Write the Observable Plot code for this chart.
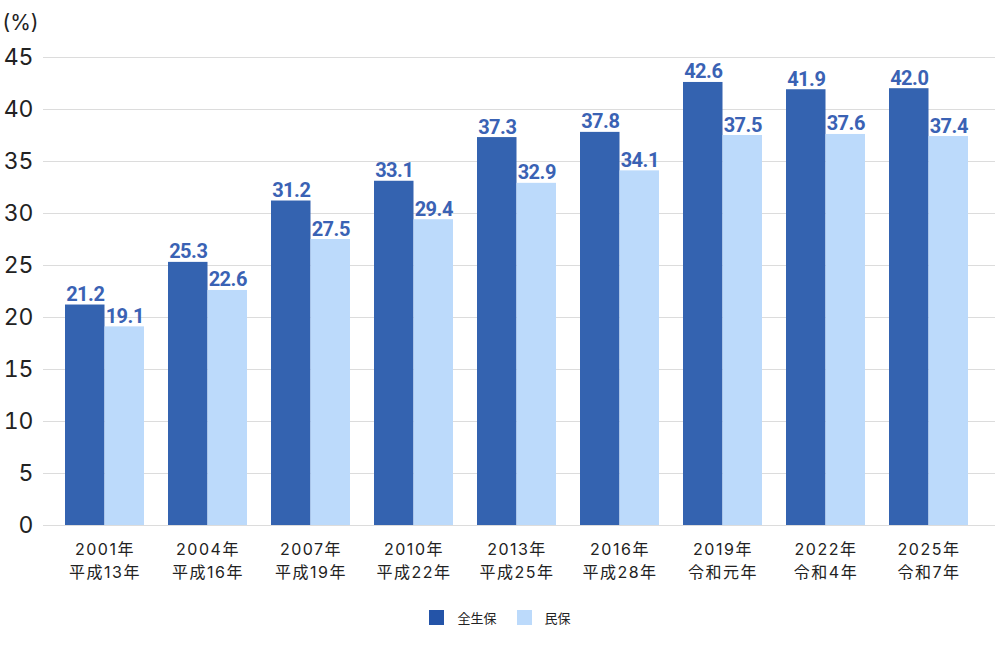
<!DOCTYPE html>
<html><head><meta charset="utf-8">
<script src="https://cdn.jsdelivr.net/npm/d3@7"></script>
<script src="https://cdn.jsdelivr.net/npm/@observablehq/plot@0.6"></script>
<style>
body{margin:0;background:#fff;font-family:"Noto Sans CJK JP","Noto Sans",sans-serif;}
#legend{display:flex;justify-content:center;align-items:center;gap:0;font-size:13px;color:#222;margin-top:12px;}
.sw{width:15px;height:15px;display:inline-block;margin-right:13px;}
.it{display:flex;align-items:center;margin:0 10px;}
g[aria-label="x-axis tick label"] text{letter-spacing:1.5px;}
</style></head><body>
<div id="chart"></div>
<div id="legend"></div>
<script>
const years = ["2001年","2004年","2007年","2010年","2013年","2016年","2019年","2022年","2025年"];
const eras = ["平成13年","平成16年","平成19年","平成22年","平成25年","平成28年","令和元年","令和4年","令和7年"];
const zenseiho = [21.2,25.3,31.2,33.1,37.3,37.8,42.6,41.9,42.0];
const minpo = [19.1,22.6,27.5,29.4,32.9,34.1,37.5,37.6,37.4];
const yTicks = [0,5,10,15,20,25,30,35,40,45];
const seriesNames = ["全生保","民保"];
const colors = ["#3463B0","#BCDAFB"];
const legendColors = ["#2454A8","#BCDAFB"];
const labelColor = "#3A62B4";

const data = years.map((y,i)=>({year:y, era:eras[i], a:zenseiho[i], b:minpo[i]}));
const eraOf = Object.fromEntries(years.map((y,i)=>[y,eras[i]]));

const W = 1000, H = 596;
const bw = 39.5;
const labelFont = 'Roboto,"Liberation Sans",sans-serif';
const tickFont = 'Inter,"Noto Sans CJK JP",sans-serif';

const plot = Plot.plot({
  width: W, height: H,
  marginLeft: 43, marginRight: 5, marginTop: 57, marginBottom: 71,
  style: {fontFamily: '"Noto Sans CJK JP","Noto Sans",sans-serif', background: "#fff", overflow: "visible"},
  x: {domain: years, paddingInner: 0.236, paddingOuter: 0.2, align: 0.45, label: null},
  y: {domain: [0,45], ticks: yTicks, label: null},
  marks: [
    Plot.ruleY(yTicks, {stroke: "#dcdcdc", strokeWidth: 1}),
    Plot.barY(data, {x: "year", y: "a", fill: colors[0], insetRight: bw}),
    Plot.barY(data, {x: "year", y: "b", fill: colors[1], insetLeft: bw}),
    Plot.text(data, {x: "year", y: "a", text: d => d.a.toFixed(1), dx: -bw/2, dy: -4, lineAnchor: "bottom",
      fill: labelColor, fontWeight: "bold", fontSize: 20, fontFamily: labelFont}),
    Plot.text(data, {x: "year", y: "b", text: d => d.b.toFixed(1), dx: bw/2, dy: -4, lineAnchor: "bottom",
      fill: labelColor, fontWeight: "bold", fontSize: 20, fontFamily: labelFont}),
    Plot.axisY({ticks: yTicks, tickSize: 0, tickPadding: 10, fontSize: 23, fill: "#222", label: null, fontFamily: tickFont}),
    Plot.axisX({tickSize: 0, tickPadding: 13, fontSize: 16, fill: "#222", lineHeight: 1.45, fontFamily: tickFont,
      tickFormat: y => y + "\n" + eraOf[y], label: null}),
    Plot.text(["(%)"], {frameAnchor: "top-left", dx: -41, dy: -42, textAnchor: "start", lineAnchor: "top", fontSize: 21, fill: "#222", fontFamily: tickFont})
  ]
});
document.getElementById("chart").appendChild(plot);
d3.select(plot).selectAll("text").filter(function(){ return this.parentNode.getAttribute("fill") === labelColor; })
  .style("letter-spacing", "-0.5px");

const lg = document.getElementById("legend");
seriesNames.forEach((n,i)=>{
  const it = document.createElement("div"); it.className="it";
  const sw = document.createElement("span"); sw.className="sw"; sw.style.background = legendColors[i];
  it.appendChild(sw); it.appendChild(document.createTextNode(n));
  lg.appendChild(it);
});
</script>
</body></html>
